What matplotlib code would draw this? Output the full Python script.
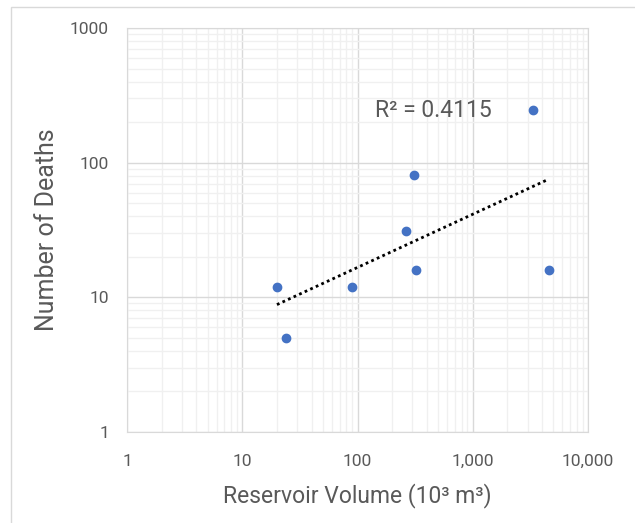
import numpy as np
import matplotlib.pyplot as plt
from matplotlib.ticker import FixedLocator, FixedFormatter, LogLocator, NullFormatter
from matplotlib.patches import Rectangle

# reservoir volume (10^3 m^3) vs number of deaths
volume = [20, 24, 90, 265, 307, 324, 3300, 4550]
deaths = [12, 5, 12, 31, 81, 16, 244, 16]
r2_label = 'R² = 0.4115'

x_ticks = [1, 10, 100, 1000, 10000]
x_labels = ['1', '10', '100', '1,000', '10,000']
y_ticks = [1, 10, 100, 1000]
y_labels = ['1', '10', '100', '1000']

plt.rcParams['font.family'] = ['Roboto', 'DejaVu Sans']
text_color = '#595959'

fig = plt.figure(figsize=(6.35, 5.23), dpi=100)
ax = fig.add_axes([0.2, 0.174, 0.726, 0.7725])

# chart border (only top/left visible in the crop)
fig.patches.append(Rectangle((11 / 635, -0.1), 1.2, (523 - 7) / 523 + 0.1,
                             transform=fig.transFigure, fill=False,
                             edgecolor='#d9d9d9', linewidth=1))

ax.set_xscale('log')
ax.set_yscale('log')
ax.set_xlim(1, 10000)
ax.set_ylim(1, 1000)

ax.xaxis.set_major_locator(FixedLocator(x_ticks))
ax.xaxis.set_major_formatter(FixedFormatter(x_labels))
ax.yaxis.set_major_locator(FixedLocator(y_ticks))
ax.yaxis.set_major_formatter(FixedFormatter(y_labels))
ax.xaxis.set_minor_locator(LogLocator(base=10, subs=np.arange(2, 10)))
ax.yaxis.set_minor_locator(LogLocator(base=10, subs=np.arange(2, 10)))
ax.xaxis.set_minor_formatter(NullFormatter())
ax.yaxis.set_minor_formatter(NullFormatter())

ax.grid(which='major', color='#d9d9d9', linewidth=1)
ax.grid(which='minor', color='#f0f0f0', linewidth=1)
ax.set_axisbelow(True)
ax.tick_params(which='both', length=0, labelsize=12.5, labelcolor=text_color)
ax.tick_params(axis='x', pad=16)
ax.tick_params(axis='y', pad=13)
for s in ax.spines.values():
    s.set_color('#d9d9d9')

ax.scatter(volume, deaths, s=36, color='#4472C4', zorder=3)

# power trendline
lx = np.log10(volume)
ly = np.log10(deaths)
b, a = np.polyfit(lx, ly, 1)
xs = np.array([min(volume), max(volume)])
ax.plot(xs, 10 ** (a + b * np.log10(xs)), color='black', linewidth=2,
        linestyle=(0, (1, 1.2)), zorder=2)

ax.text(0.539, 0.795, r2_label, transform=ax.transAxes, fontsize=16.5,
        color=text_color, va='center', ha='left')

ax.set_xlabel('Reservoir Volume (10³ m³)', fontsize=16.5, color=text_color,
              labelpad=10)
ax.set_ylabel('Number of Deaths', fontsize=18, color=text_color, labelpad=8)

fig.savefig('out.png', dpi=100)
